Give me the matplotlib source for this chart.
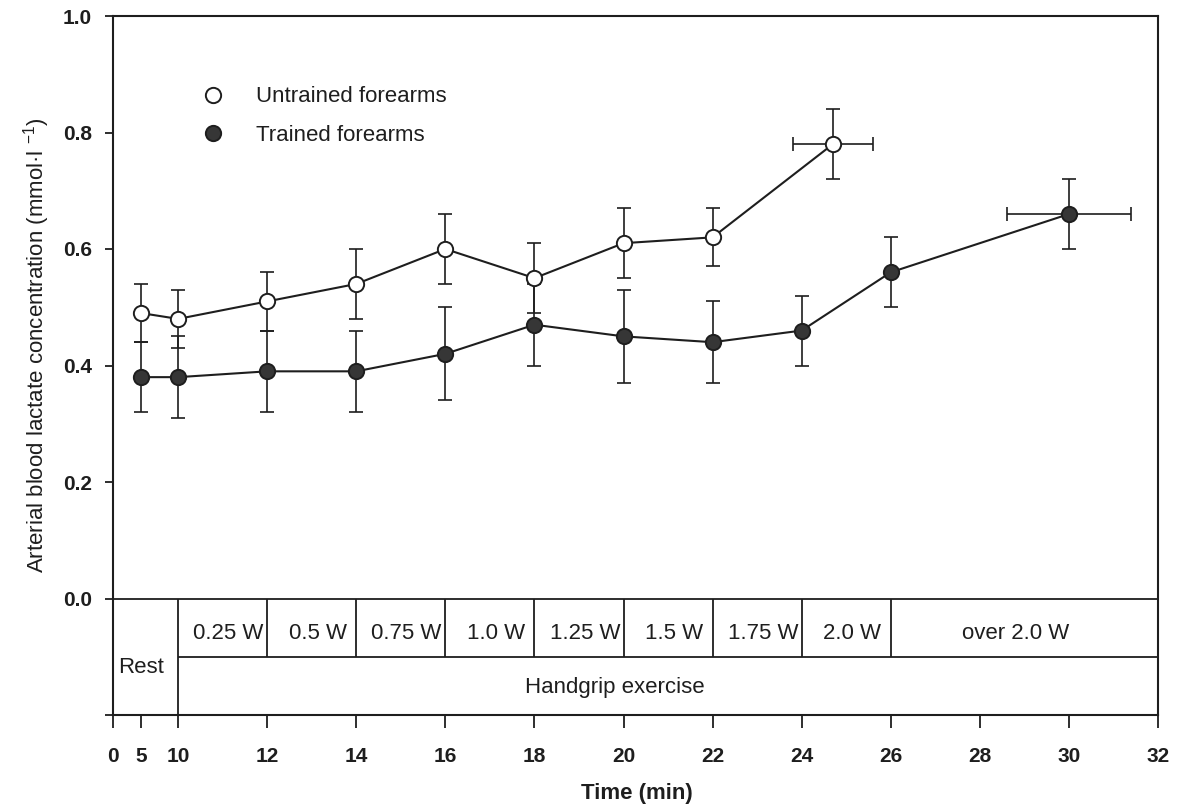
import numpy as np
import matplotlib
matplotlib.use("Agg")
import matplotlib.pyplot as plt
from matplotlib.lines import Line2D

plt.rcParams['font.family'] = ['Liberation Sans', 'DejaVu Sans']
plt.rcParams['mathtext.fontset'] = 'custom'
plt.rcParams['mathtext.rm'] = 'Liberation Sans'
plt.rcParams['mathtext.it'] = 'Liberation Sans:italic'

# Arterial lactate, untrained forearms (mean, SD)
untrained_time = [5, 10, 12, 14, 16, 18, 20, 22, 24.7]
untrained_lactate = [0.49, 0.48, 0.51, 0.54, 0.60, 0.55, 0.61, 0.62, 0.78]
untrained_sd = [0.05, 0.05, 0.05, 0.06, 0.06, 0.06, 0.06, 0.05, 0.06]
untrained_time_sd = [0, 0, 0, 0, 0, 0, 0, 0, 0.9]

# Arterial lactate, trained forearms (mean, SD)
trained_time = [5, 10, 12, 14, 16, 18, 20, 22, 24, 26, 30]
trained_lactate = [0.38, 0.38, 0.39, 0.39, 0.42, 0.47, 0.45, 0.44, 0.46, 0.56, 0.66]
trained_sd = [0.06, 0.07, 0.07, 0.07, 0.08, 0.07, 0.08, 0.07, 0.06, 0.06, 0.06]
trained_time_sd = [0, 0, 0, 0, 0, 0, 0, 0, 0, 0, 1.4]

# Exercise protocol: workload stages (min) and their labels
stage_edges = [10, 12, 14, 16, 18, 20, 22, 24, 26, 32]
stage_labels = ['0.25 W', '0.5 W', '0.75 W', '1.0 W', '1.25 W', '1.5 W',
                '1.75 W', '2.0 W', 'over 2.0 W']
rest_label = 'Rest'
exercise_label = 'Handgrip exercise'

x_ticks = [0, 5, 10, 12, 14, 16, 18, 20, 22, 24, 26, 28, 30, 32]
y_ticks = [-0.2, 0.0, 0.2, 0.4, 0.6, 0.8, 1.0]
y_tick_labels = ['', '0.0', '0.2', '0.4', '0.6', '0.8', '1.0']

# Broken time axis: the rest period is compressed
_t_knots = np.array([0.0, 5.0, 10.0, 32.0])
_u_knots = np.array([0.0, 0.63, 1.462, 23.462])


def _fwd(t):
    return np.interp(t, _t_knots, _u_knots)


def _inv(u):
    return np.interp(u, _u_knots, _t_knots)


ink = '#1e1e1e'
dot = '#363636'

fig = plt.figure(figsize=(11.78, 8.07), dpi=100)
ax = fig.add_axes([113 / 1178, 1 - 715 / 807, (1158 - 113) / 1178, (715 - 16) / 807])
ax.set_xscale('function', functions=(_fwd, _inv))
ax.set_xlim(0, 32)
ax.set_ylim(-0.2, 1.0)

for s in ax.spines.values():
    s.set_linewidth(1.5)
    s.set_color(ink)

err_kw = dict(fmt='none', ecolor=ink, elinewidth=1.2, capsize=5, capthick=1.2, zorder=2)


def draw_series(t, v, sd, tsd, face):
    t = np.asarray(t, float)
    v = np.asarray(v, float)
    sd = np.asarray(sd, float)
    tsd = np.asarray(tsd, float)
    ax.errorbar(t, v, yerr=sd, **err_kw)
    sel = tsd > 0
    ax.errorbar(t[sel], v[sel], xerr=tsd[sel], **err_kw)
    ax.plot(t, v, '-', color=ink, lw=1.5, marker='o', ms=11,
            mfc=face, mec=ink, mew=1.4, zorder=3)


draw_series(untrained_time, untrained_lactate, untrained_sd, untrained_time_sd, 'white')
draw_series(trained_time, trained_lactate, trained_sd, trained_time_sd, dot)

# Protocol table under the zero line
tbl_kw = dict(color=ink, lw=1.3, zorder=1)
ax.axhline(0.0, **tbl_kw)
ax.hlines(-0.1, stage_edges[0], stage_edges[-1], **tbl_kw)
ax.vlines(stage_edges[0], -0.2, 0.0, **tbl_kw)
ax.vlines(stage_edges[1:-1], -0.1, 0.0, **tbl_kw)

mids = [(a + b) / 2 for a, b in zip(stage_edges[:-1], stage_edges[1:])]
for i, (m, lab) in enumerate(zip(mids, stage_labels)):
    xm = m + 0.13 if i < len(mids) - 1 else m - 0.2
    ax.text(xm, -0.06, lab, ha='center', va='center', fontsize=16, color=ink)
ax.text(5, -0.118, rest_label, ha='center', va='center', fontsize=16, color=ink)
ax.text(19.8, -0.153, exercise_label, ha='center', va='center', fontsize=16, color=ink)

# Ticks
ax.set_xticks(x_ticks)
ax.set_xticklabels([str(t) for t in x_ticks])
ax.xaxis.set_minor_locator(matplotlib.ticker.NullLocator())
ax.set_yticks(y_ticks)
ax.set_yticklabels(y_tick_labels)
ax.tick_params(axis='x', direction='out', length=9, width=1.3, pad=14,
               labelsize=15, colors=ink)
ax.tick_params(axis='y', direction='out', length=6, width=1.3, pad=9,
               labelsize=15, colors=ink)
for lab in ax.get_xticklabels() + ax.get_yticklabels():
    lab.set_fontweight('bold')

ax.set_xlabel('Time (min)', fontsize=16, fontweight='bold', color=ink)
ax.xaxis.set_label_coords(0.501, -0.097)
ax.set_ylabel('Arterial blood lactate concentration (mmol·l $^{-1}$)',
              fontsize=16, color=ink)
ax.yaxis.set_label_coords(-0.0585, 0.529)

handles = [
    Line2D([], [], ls='none', marker='o', ms=11, mfc='white', mec=ink, mew=1.4),
    Line2D([], [], ls='none', marker='o', ms=11, mfc=dot, mec=ink, mew=1.4),
]
leg = ax.legend(handles, ['Untrained forearms', 'Trained forearms'],
                loc='upper left', bbox_to_anchor=(0.077, 0.912), frameon=False,
                fontsize=16, handlelength=1.0, handletextpad=1.4,
                labelspacing=0.78, borderaxespad=0)
for t in leg.get_texts():
    t.set_color(ink)

fig.savefig('out.png', dpi=100, facecolor='white')
